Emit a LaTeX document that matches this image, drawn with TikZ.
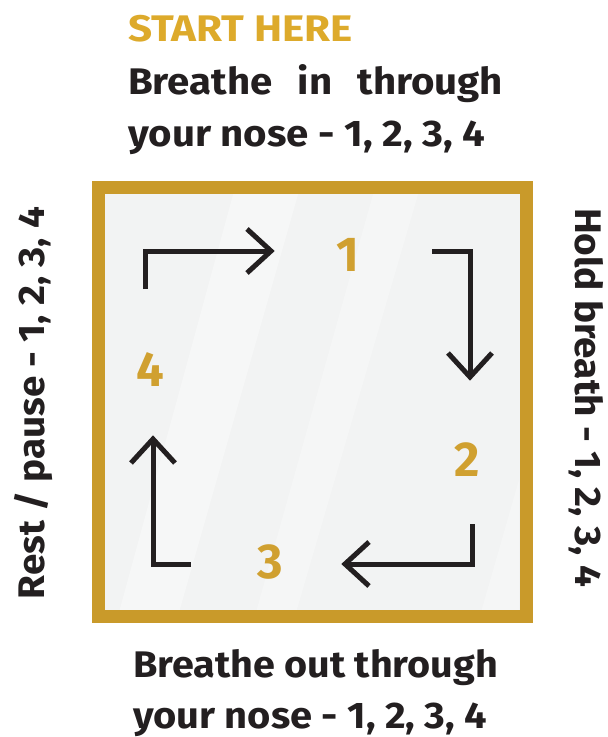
\documentclass[tikz,border=0pt]{standalone}
\usepackage{fontspec}
\usepackage{graphicx}
\setmainfont{Fira Sans}
\definecolor{gold}{HTML}{C99A2A}
\definecolor{startgold}{HTML}{DDAA2B}
\definecolor{numgold}{HTML}{D0A030}
\definecolor{ink}{HTML}{231F20}
\definecolor{panel}{HTML}{F2F3F3}
\newsavebox\fitbox
\newcommand\fitw[2]{\sbox\fitbox{#2}\pgfmathsetmacro\fitsx{#1/\the\wd\fitbox}\scalebox{\fitsx}[1]{\usebox\fitbox}}
% justified line with the same horizontal letter scale as a reference line
\newcommand\fitjust[4]{\sbox\fitbox{#2}\pgfmathsetmacro\fitsx{#1/\the\wd\fitbox}\pgfmathsetlengthmacro\fitjw{#3/\fitsx}\scalebox{\fitsx}[1]{\makebox[\fitjw][s]{#4}}}
\begin{document}
\begin{tikzpicture}[x=1pt,y=-1pt,
  lbl/.style={inner sep=0pt, outer sep=0pt, font=\fontsize{37}{37}\selectfont\bfseries, text=ink, anchor=base west},
  numlbl/.style={inner sep=0pt, outer sep=0pt, font=\fontsize{49}{49}\selectfont\bfseries, text=numgold, anchor=base},
  arr/.style={draw=ink, line width=5pt, line join=miter, line cap=butt, miter limit=10}]
\useasboundingbox (0,0) rectangle (608,737);
\fill[white] (0,0) rectangle (608,737);
% panel
\fill[panel] (98,187.5) rectangle (526,616);
\fill[white, opacity=0.35] (118,616) -- (178,616) -- (300,187.5) -- (235,187.5) -- cycle;
\fill[white, opacity=0.3] (255,616) -- (295,616) -- (420,187.5) -- (375,187.5) -- cycle;
\fill[white, opacity=0.3] (480,616) -- (519,616) -- (519,480) -- cycle;
\draw[gold, line width=13pt] (98,187.5) rectangle (526,616);
% texts
\node[lbl, text=startgold] (start) at (128,41) {\fitw{225}{START HERE}};
\node[lbl] (in1) at (128,94) {\fitjust{357}{your nose - 1, 2, 3, 4}{375pt}{Breathe in through}};
\node[lbl] (in2) at (128,146) {\fitw{357}{your nose - 1, 2, 3, 4}};
\node[lbl] (out1) at (133,677) {\fitw{365}{Breathe out through}};
\node[lbl] (out2) at (133,728) {\fitw{354}{your nose - 1, 2, 3, 4}};
\node[lbl, rotate=90] (rest) at (45,599) {\fitw{392}{Rest / pause - 1, 2, 3, 4}};
\node[lbl, rotate=-90] (hold) at (575,208) {\fitw{379}{Hold breath - 1, 2, 3, 4}};
% numbers
\node[numlbl] (n1) at (348,271) {1};
\node[numlbl] (n2) at (467,476) {2};
\node[numlbl] (n3) at (270,578) {3};
\node[numlbl] (n4) at (150,386) {4};
% arrows
\coordinate (a1s) at (145,289);
\coordinate (a1c) at (145,251);
\coordinate (a1t) at (271,251);
\draw[arr] (a1s) -- (a1c) -- (a1t);
\draw[arr] (247,229) -- (a1t) -- (247,273);
\coordinate (a2s) at (432,251);
\coordinate (a2c) at (470,251);
\coordinate (a2t) at (470,377);
\draw[arr] (a2s) -- (a2c) -- (a2t);
\draw[arr] (448,353) -- (a2t) -- (492,353);
\coordinate (a3s) at (472,524);
\coordinate (a3c) at (472,564);
\coordinate (a3t) at (345,564);
\draw[arr] (a3s) -- (a3c) -- (a3t);
\draw[arr] (369,542) -- (a3t) -- (369,586);
\coordinate (a4s) at (191,564);
\coordinate (a4c) at (153,564);
\coordinate (a4t) at (153,439);
\draw[arr] (a4s) -- (a4c) -- (a4t);
\draw[arr] (131,463) -- (a4t) -- (175,463);
\end{tikzpicture}
\end{document}
